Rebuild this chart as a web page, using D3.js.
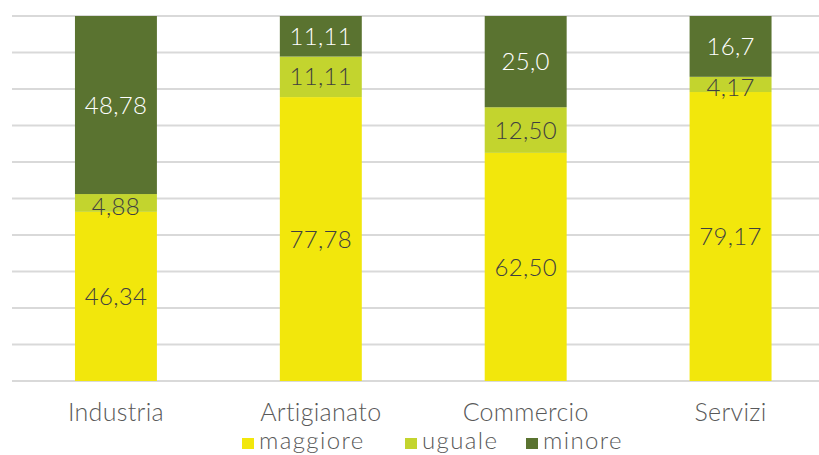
<!DOCTYPE html>
<html><head><meta charset="utf-8">
<script src="https://cdn.jsdelivr.net/npm/d3@7"></script>
<style>body{margin:0;background:#fff;}svg{display:block;font-family:Lato,"Open Sans",sans-serif;font-weight:300;}</style>
</head><body>
<svg id="c" width="819" height="455"></svg>
<script>
const categories = ["Industria","Artigianato","Commercio","Servizi"];
const maggiore = [46.34, 77.78, 62.50, 79.17];
const uguale = [4.88, 11.11, 12.50, 4.17];
const minore = [48.78, 11.11, 25.0, 16.7];
const maggioreLabels = ["46,34","77,78","62,50","79,17"];
const ugualeLabels = ["4,88","11,11","12,50","4,17"];
const minoreLabels = ["48,78","11,11","25,0","16,7"];
const seriesNames = ["maggiore","uguale","minore"];
const yTicks = [0,10,20,30,40,50,60,70,80,90,100];

const colors = {maggiore:"#f2e70c", uguale:"#c3d42e", minore:"#5a7330"};
const labelColors = {maggiore:"#404040", uguale:"#404040", minore:"#ffffff"};

const svg = d3.select("#c");
const x = d3.scaleBand().domain(categories).range([13.5, 833]).paddingInner(0.6).paddingOuter(0.3);
const y = d3.scaleLinear().domain([0,100]).range([381, 16]);

// gridlines
svg.append("g").selectAll("line").data(yTicks).join("line")
  .attr("x1", 12).attr("x2", 819)
  .attr("y1", d => y(d)).attr("y2", d => y(d))
  .attr("stroke", "#d9d9d9").attr("stroke-width", 2);

const rows = categories.map((c,i) => ({cat:c, maggiore:maggiore[i], uguale:uguale[i], minore:minore[i],
  labels:{maggiore:maggioreLabels[i], uguale:ugualeLabels[i], minore:minoreLabels[i]}}));
const stack = d3.stack().keys(seriesNames)(rows);

const g = svg.append("g");
stack.forEach(s => {
  g.append("g").selectAll("rect").data(s).join("rect")
    .attr("x", d => x(d.data.cat))
    .attr("width", x.bandwidth())
    .attr("y", d => y(Math.min(d[1],100)))
    .attr("height", d => y(d[0]) - y(Math.min(d[1],100)))
    .attr("fill", colors[s.key]);
});
stack.forEach(s => {
  g.append("g").selectAll("text").data(s).join("text")
    .attr("x", d => x(d.data.cat) + x.bandwidth()/2)
    .attr("y", d => y((d[0]+Math.min(d[1],100))/2) + (s.key === "uguale" && d.data.uguale < 6 ? 3 : 0))
    .attr("dy", "0.36em")
    .attr("text-anchor", "middle")
    .attr("font-size", 24)
    .attr("letter-spacing", 0.3)
    .attr("fill", labelColors[s.key])
    .text(d => d.data.labels[s.key]);
});

// category axis labels
svg.append("g").selectAll("text").data(categories).join("text")
  .attr("x", d => x(d) + x.bandwidth()/2)
  .attr("y", 412).attr("dy","0.36em")
  .attr("text-anchor","middle").attr("font-size", 25).attr("letter-spacing", 0.3).attr("fill","#595959")
  .text(d => d);

// legend
const legendX = [242, 405, 526];
const leg = svg.append("g");
seriesNames.forEach((n,i) => {
  leg.append("rect").attr("x", legendX[i]).attr("y", 438).attr("width", 12).attr("height", 11).attr("fill", colors[n]);
  leg.append("text").attr("x", legendX[i] + 17).attr("y", 440).attr("dy","0.36em")
    .attr("font-size", 24).attr("letter-spacing", 1.4).attr("fill","#595959").text(n);
});
</script>
</body></html>
